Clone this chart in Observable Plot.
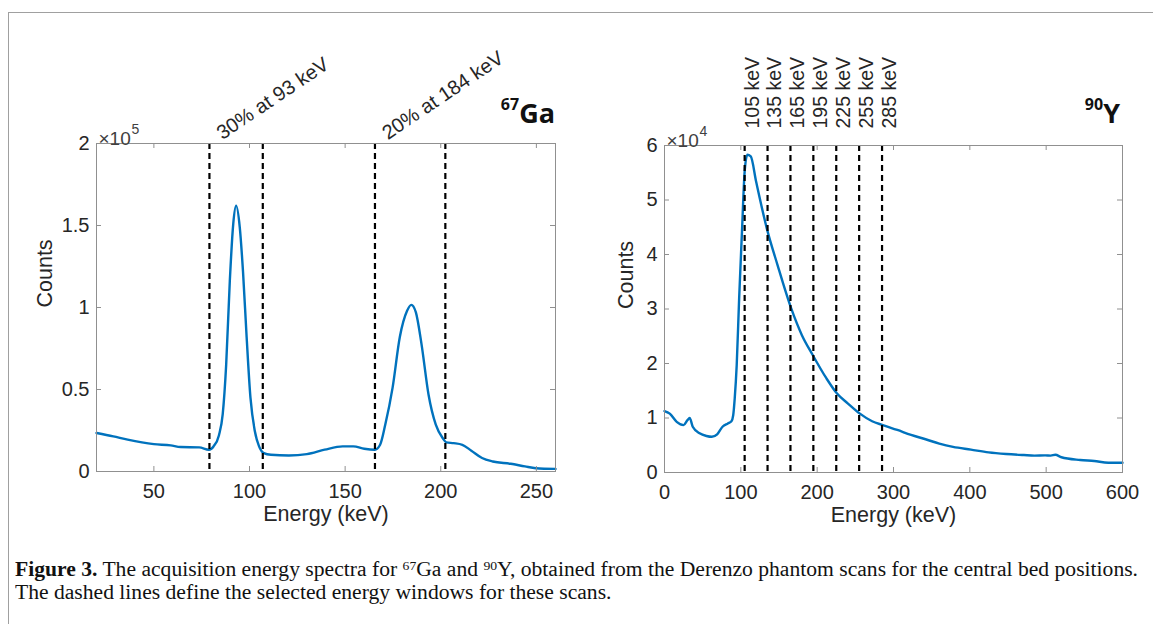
<!DOCTYPE html>
<html><head><meta charset="utf-8">
<script src="https://cdn.jsdelivr.net/npm/d3@7"></script>
<script src="https://cdn.jsdelivr.net/npm/@observablehq/plot@0.6"></script>
<style>
body{margin:0;background:#fff;width:1153px;height:624px;overflow:hidden;position:relative;font-family:"Liberation Sans",Arial,sans-serif;}
#frame{position:absolute;left:8px;top:12px;width:1200px;height:700px;border:1.5px solid #a0a0a0;box-sizing:border-box;}
.iso{position:absolute;font-family:"Open Sans","Noto Sans",sans-serif;font-weight:700;font-size:27px;color:#111;line-height:1;white-space:nowrap}
.iso sup{font-size:16px;vertical-align:top;position:relative;top:-3px}
#caption{position:absolute;left:15px;top:558px;font-family:"Liberation Serif","Times New Roman",serif;font-size:20.5px;color:#111;transform-origin:0 0;white-space:nowrap;line-height:23px}
#caption sup{font-size:13px;vertical-align:top;position:relative;top:-4px}
.plot{position:absolute;top:0}
</style></head><body>
<div id="frame"></div>
<div id="left" class="plot" style="left:0"></div>
<div id="right" class="plot" style="left:580px"></div>
<div class="iso" id="tGa" style="right:598px;top:99px"><sup>67</sup>Ga</div>
<div class="iso" id="tY" style="right:33px;top:99px"><sup>90</sup>Y</div>
<div id="caption"><div id="cap1"><b>Figure 3.</b> The acquisition energy spectra for <sup>67</sup>Ga and <sup>90</sup>Y, obtained from the Derenzo phantom scans for the central bed positions.</div><div id="cap2">The dashed lines define the selected energy windows for these scans.</div></div>
<script>
// ---- 67Ga spectrum ----
const gaEnergy = [20, 28.8, 36.3, 50, 58.8, 64, 73.7, 78.8, 81.2, 84, 86, 87.8, 89.7, 91.5, 93, 94.9, 96.6, 98.5, 100.5, 102.8, 105, 107.5, 111.2, 120.6, 130, 139.3, 148.7, 154.3, 160, 165.5, 168.3, 171, 174.8, 178.6, 182.4, 184.6, 187, 189.9, 193.6, 197.4, 201, 202.9, 206.7, 211.3, 216, 221.6, 227.2, 236.6, 244, 249.7, 260];
const gaCounts = [23500, 21400, 19400, 16700, 15900, 14900, 14700, 13300, 15300, 22000, 35000, 65000, 116000, 151000, 162000, 149000, 122000, 82000, 45000, 24500, 15300, 11200, 10200, 9800, 10600, 13300, 15300, 15300, 13900, 13300, 16300, 28600, 51000, 82000, 98000, 101600, 97000, 78000, 47000, 28600, 20400, 17800, 17300, 16300, 12700, 8200, 6100, 4700, 3100, 2000, 1600];
const gaWindows = [79.05, 106.95, 165.6, 202.4];
const gaWindowLabelX = [79.05, 165.6];
const gaWindowLabels = ["30% at 93 keV", "20% at 184 keV"];
const gaXTicks = [50, 100, 150, 200, 250];
const gaYTicks = [0, 50000, 100000, 150000, 200000];

// ---- 90Y spectrum ----
const yEnergy = [0, 6.9, 16, 25, 30, 33, 37, 46, 55, 62, 69, 76, 83, 87.7, 90, 92, 94.6, 97.8, 101.5, 105, 108.5, 113, 120, 134, 148, 166, 180, 194, 212, 226, 240, 256, 272, 286, 305, 323, 342, 360, 378, 401.5, 424.6, 447.7, 470.8, 484.6, 498.5, 506, 512, 520, 544.6, 563, 581.5, 600];
const yCounts = [11270, 10800, 9300, 8700, 9600, 10000, 8400, 7200, 6700, 6550, 7000, 8400, 9000, 9400, 10500, 13600, 19700, 32000, 44200, 55200, 58300, 58000, 53400, 44800, 38100, 30100, 25200, 21600, 17300, 14500, 12700, 10800, 9400, 8700, 7800, 6900, 6100, 5300, 4700, 4200, 3700, 3400, 3200, 3100, 3150, 3100, 3250, 2800, 2300, 2100, 1800, 1800];
const yWindows = [105, 135, 165, 195, 225, 255, 285];
const yWindowLabels = ["105 keV", "135 keV", "165 keV", "195 keV", "225 keV", "255 keV", "285 keV"];
const yXTicks = [0, 100, 200, 300, 400, 500, 600];
const yYTicks = [0, 10000, 20000, 30000, 40000, 50000, 60000];

const BLUE = "#0072BD", AXIS = "#909090", TXT = "#262626";

function spectrum(o) {
  const iw = o.width - o.marginLeft - o.marginRight;
  const ih = o.height - o.marginTop - o.marginBottom;
  const data = o.energy.map((e, i) => ({e, c: o.counts[i]}));
  return Plot.plot({
    width: o.width, height: o.height,
    marginLeft: o.marginLeft, marginRight: o.marginRight,
    marginTop: o.marginTop, marginBottom: o.marginBottom,
    style: {fontFamily: '"Liberation Sans", Arial, sans-serif', fontSize: "19px", color: TXT, background: "transparent", overflow: "visible"},
    x: {domain: o.xDomain},
    y: {domain: o.yDomain},
    marks: [
      Plot.line(data, {x: "e", y: "c", stroke: BLUE, strokeWidth: 2.4, curve: "monotone-x"}),
      Plot.ruleX(o.windows, {x: d => d, stroke: "#000", strokeWidth: 2.2, strokeDasharray: "6,4"}),
      Plot.frame({stroke: AXIS, strokeWidth: 1}),
      Plot.tickX(o.xTicks, {x: d => d, insetTop: ih - 5, stroke: AXIS}),
      Plot.tickX(o.xTicks, {x: d => d, insetBottom: ih - 5, stroke: AXIS}),
      Plot.tickY(o.yTicks, {y: d => d, insetRight: iw - 5, stroke: AXIS}),
      Plot.tickY(o.yTicks, {y: d => d, insetLeft: iw - 5, stroke: AXIS}),
      Plot.axisX(o.xTicks, {tickSize: 0, tickPadding: 12, fontSize: 20, fill: TXT, label: null}),
      Plot.axisY(o.yTicks, {tickSize: 0, tickPadding: 7, fontSize: 20, fill: TXT, label: null, tickFormat: d => String(d / o.scale)}),
      Plot.text(["×10"], {frameAnchor: "top-left", text: d => d, textAnchor: "start", dx: 2, dy: -12, fontSize: 19, fill: "#404040"}),
      Plot.text([o.exponent], {frameAnchor: "top-left", text: d => d, textAnchor: "start", dx: 35, dy: -19, fontSize: 14, fill: "#404040"}),
      Plot.text(["Energy (keV)"], {frameAnchor: "bottom", text: d => d, dy: 49, fontSize: 21.5, fill: TXT}),
      Plot.text(["Counts"], {frameAnchor: "left", text: d => d, rotate: -90, dx: o.countsDx, fontSize: 21.5, fill: TXT}),
      ...o.extra
    ]
  });
}

const left = spectrum({
  energy: gaEnergy, counts: gaCounts, windows: gaWindows,
  xDomain: [20, 260], yDomain: [0, 200000], xTicks: gaXTicks, yTicks: gaYTicks,
  scale: 1e5, exponent: "5",
  width: 580, height: 545, marginLeft: 96, marginRight: 25, marginTop: 143, marginBottom: 74,
  countsDx: -51,
  extra: [
    Plot.text(gaWindowLabels, {x: (d, i) => gaWindowLabelX[i], text: d => d, frameAnchor: "top", dx: 5, dy: -15, rotate: -34, textAnchor: "start", fontSize: 20, fill: TXT})
  ]
});
document.getElementById("left").appendChild(left);

const right = spectrum({
  energy: yEnergy, counts: yCounts, windows: yWindows,
  xDomain: [0, 600], yDomain: [0, 60000], xTicks: yXTicks, yTicks: yYTicks,
  scale: 1e4, exponent: "4",
  width: 573, height: 545, marginLeft: 84, marginRight: 31, marginTop: 145, marginBottom: 73,
  countsDx: -38,
  extra: [
    Plot.text(yWindowLabels, {x: (d, i) => yWindows[i], text: d => d, frameAnchor: "top", dy: -17, rotate: -90, textAnchor: "start", fontSize: 19.5, fill: TXT})
  ]
});
document.getElementById("right").appendChild(right);

// fit caption width to the reference line length
const cap = document.getElementById("caption");
const w1 = document.getElementById("cap1").getBoundingClientRect().width;
cap.style.transform = `scaleX(${1123 / w1})`;
</script>
</body></html>
